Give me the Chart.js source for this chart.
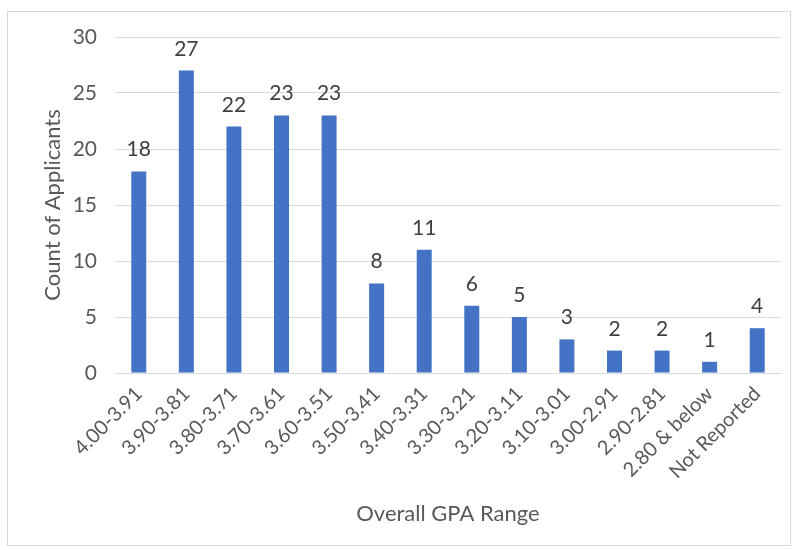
<!DOCTYPE html>
<html>
<head>
<meta charset="utf-8">
<script src="https://cdn.jsdelivr.net/npm/chart.js@4.4.1/dist/chart.umd.min.js"></script>
<style>
  html, body { margin: 0; padding: 0; background: #fff; }
  #wrap {
    position: absolute; left: 7px; top: 11px;
    width: 782px; height: 533px;
    border: 1px solid #d9d9d9;
  }
</style>
</head>
<body>
<div id="wrap"><canvas id="gpaChart" width="782" height="533"></canvas></div>
<script>
const gpaRanges = ['4.00-3.91', '3.90-3.81', '3.80-3.71', '3.70-3.61', '3.60-3.51', '3.50-3.41',
  '3.40-3.31', '3.30-3.21', '3.20-3.11', '3.10-3.01', '3.00-2.91', '2.90-2.81', '2.80 & below', 'Not Reported'];
const applicantCounts = [18, 27, 22, 23, 23, 8, 11, 6, 5, 3, 2, 2, 1, 4];
const yTicks = [0, 5, 10, 15, 20, 25, 30];

const FONT = 'Lato, "Open Sans", sans-serif';

// value labels above each bar (no datalabels plugin available offline)
const barLabels = {
  id: 'barLabels',
  afterDatasetsDraw(chart) {
    const ctx = chart.ctx;
    const meta = chart.getDatasetMeta(0);
    ctx.save();
    ctx.font = '21px ' + FONT;
    ctx.fillStyle = '#404040';
    ctx.textAlign = 'center';
    ctx.textBaseline = 'alphabetic';
    meta.data.forEach((bar, i) => {
      ctx.fillText(String(applicantCounts[i]), bar.x, bar.y - 15);
    });
    ctx.restore();
  }
};

const ctx = document.getElementById('gpaChart').getContext('2d');
const chart = new Chart(ctx, {
  type: 'bar',
  data: {
    labels: gpaRanges,
    datasets: [{
      label: 'Count of Applicants',
      data: applicantCounts,
      backgroundColor: '#4472C4',
      borderWidth: 0,
      barPercentage: 0.315,
      categoryPercentage: 1
    }]
  },
  options: {
    responsive: false,
    animation: false,
    layout: { padding: { top: 25, right: 9, bottom: 0, left: 0 } },
    plugins: {
      legend: { display: false },
      tooltip: { enabled: false }
    },
    scales: {
      x: {
        grid: { display: false, drawTicks: false },
        border: { display: true, color: '#d9d9d9', width: 1 },
        ticks: {
          color: '#595959',
          font: { family: FONT, size: 20 },
          minRotation: 45,
          maxRotation: 45,
          padding: 9,
          autoSkip: false
        },
        title: {
          display: true,
          text: 'Overall GPA Range',
          color: '#595959',
          font: { family: FONT, size: 22 },
          padding: { top: 0, bottom: 18 }
        },
        afterFit: s => { s.height = 172; }
      },
      y: {
        min: 0,
        max: 30,
        afterBuildTicks: s => { s.ticks = yTicks.map(v => ({ value: v })); },
        grid: { color: '#d9d9d9', drawTicks: false },
        border: { display: false },
        ticks: {
          color: '#595959',
          font: { family: FONT, size: 21 },
          padding: 18
        },
        title: {
          display: true,
          text: 'Count of Applicants',
          color: '#595959',
          font: { family: FONT, size: 22 },
          padding: { top: 32, bottom: 0 }
        },
        afterFit: s => { s.width = 107; s.paddingTop = 0; }
      }
    }
  },
  plugins: [barLabels]
});
</script>
</body>
</html>
